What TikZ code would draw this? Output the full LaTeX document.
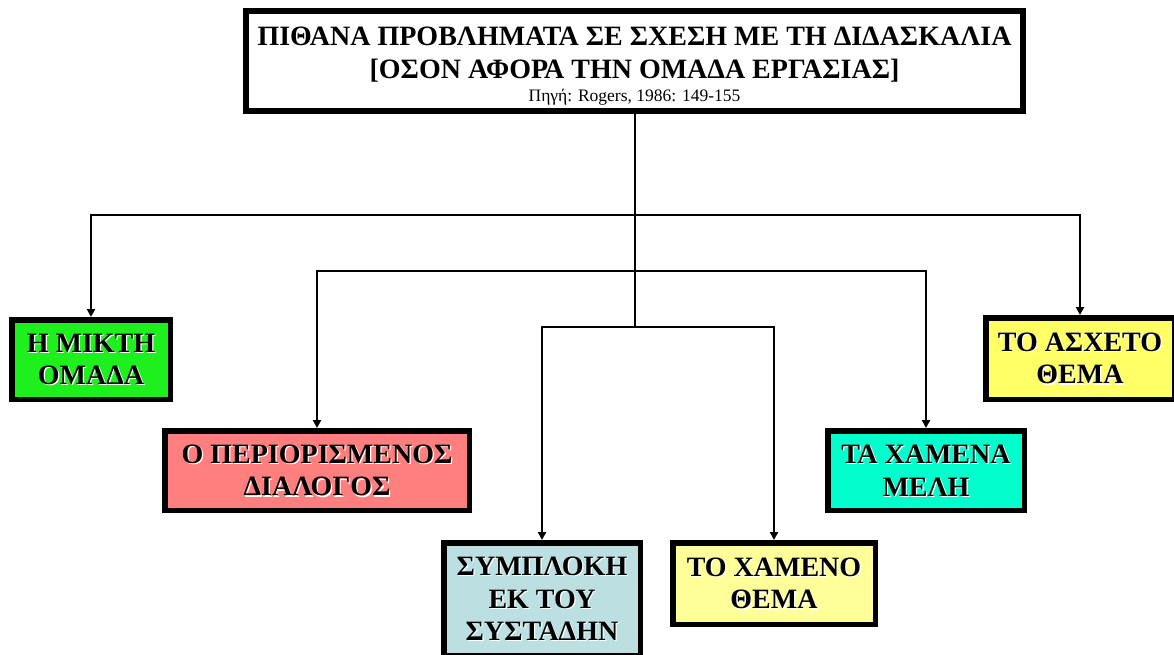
\documentclass[tikz,border=0pt]{standalone}
\usepackage{fontspec}
\setmainfont{Liberation Serif}
\usetikzlibrary{arrows.meta}
\definecolor{cgreen}{HTML}{1EF01E}
\definecolor{cpink}{HTML}{FF7F7F}
\definecolor{cblue}{HTML}{BCE0E2}
\definecolor{cyel}{HTML}{FFFF99}
\definecolor{cyel2}{HTML}{FFFF66}
\definecolor{cteal}{HTML}{00FFCC}
\newcommand\embtext[2]{%
  \node[txt,white] (#1-s) at ([shift={(1.2,1.2)}]#1.center) {#2};
  \node[txt] (#1-t) at (#1.center) {#2};}
\begin{document}
\begin{tikzpicture}[x=1pt,y=-1pt,
  box/.style={draw=black,line width=5.5pt,inner sep=0pt},
  txt/.style={align=center,font=\bfseries\fontsize{28}{32.5}\selectfont,inner sep=0pt},
  ttl/.style={inner sep=0pt,anchor=base,font=\bfseries\fontsize{28}{33}\selectfont},
  conn/.style={line width=2pt},
  arr/.style={line width=2pt,-{Triangle[length=8pt,width=8pt]}}]
\useasboundingbox[fill=white] (0,0) rectangle (1174,654);
% boxes
\node[box,fill=white,line width=6pt,minimum width=777pt,minimum height=100pt] (title) at (634.5,61) {};
\node[ttl] (title-t1) at (634.5,45) {ΠΙΘΑΝΑ ΠΡΟΒΛΗΜΑΤΑ ΣΕ ΣΧΕΣΗ ΜΕ ΤΗ ΔΙΔΑΣΚΑΛΙΑ};
\node[ttl] (title-t2) at (634.5,78) {[ΟΣΟΝ ΑΦΟΡΑ ΤΗΝ ΟΜΑΔΑ ΕΡΓΑΣΙΑΣ]};
\node[inner sep=0pt,anchor=base,font=\fontsize{17.5}{20}\selectfont] (title-s) at (634.5,101) {Πηγή: Rogers, 1986: 149-155};
\node[box,fill=cgreen,minimum width=158.5pt,minimum height=79.5pt] (mikti) at (91,359.5) {};
\node[box,fill=cpink,minimum width=304.5pt,minimum height=79.5pt] (perior) at (317,470.5) {};
\node[box,fill=cblue,minimum width=196.5pt,minimum height=112.5pt] (sympl) at (542,599) {};
\node[box,fill=cyel,minimum width=202.5pt,minimum height=81.5pt] (xthema) at (774,583.5) {};
\node[box,fill=cteal,minimum width=196.5pt,minimum height=79.5pt] (xmeli) at (926,470.5) {};
\node[box,fill=cyel2,minimum width=188.5pt,minimum height=81.5pt] (asxeto) at (1080,358.5) {};
\embtext{mikti}{Η ΜΙΚΤΗ\\ΟΜΑΔΑ}
\embtext{perior}{Ο ΠΕΡΙΟΡΙΣΜΕΝΟΣ\\ΔΙΑΛΟΓΟΣ}
\embtext{sympl}{ΣΥΜΠΛΟΚΗ\\ΕΚ ΤΟΥ\\ΣΥΣΤΑΔΗΝ}
\embtext{xthema}{ΤΟ ΧΑΜΕΝΟ\\ΘΕΜΑ}
\embtext{xmeli}{ΤΑ ΧΑΜΕΝΑ\\ΜΕΛΗ}
\embtext{asxeto}{ΤΟ ΑΣΧΕΤΟ\\ΘΕΜΑ}
% junctions
\coordinate (j1) at (634.5,215);
\coordinate (j2) at (634.5,271);
\coordinate (j3) at (634.5,327);
\draw[conn] (title.south) -- (j3);
\draw[arr] (j1) -| (mikti.north);
\draw[arr] (j1) -| (asxeto.north);
\draw[arr] (j2) -| (perior.north);
\draw[arr] (j2) -| (xmeli.north);
\draw[arr] (j3) -| (sympl.north);
\draw[arr] (j3) -| (xthema.north);
\end{tikzpicture}
\end{document}
